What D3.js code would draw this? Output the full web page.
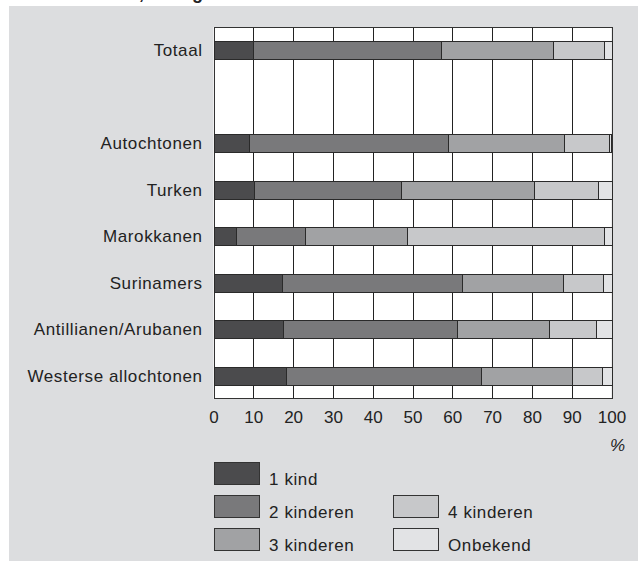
<html>
<head>
<meta charset="utf-8">
<style>
    body { margin: 0; background: #fff; }
    text { font-family: "Liberation Sans", Arial, sans-serif; fill: #222; }
    .grid line { stroke: #222; stroke-width: 1; }
    .bar { stroke: #2a2a2a; stroke-width: 1; }
    .lbl { font-size: 17px; letter-spacing: 0.6px; }
</style>
<script src="https://cdn.jsdelivr.net/npm/d3@7/dist/d3.min.js"></script>
</head>
<body>
<svg id="container" width="638" height="561"></svg>
<script>
// categories (top to bottom), "" is the empty row under Totaal
const groups = ["Totaal", "", "Autochtonen", "Turken", "Marokkanen", "Surinamers",
    "Antillianen/Arubanen", "Westerse allochtonen"]
const series = ["1 kind", "2 kinderen", "3 kinderen", "4 kinderen", "Onbekend"]

// percentages per group
const eenKind     = [10.0, 9.0, 10.2, 5.7, 17.3, 17.5, 18.2]
const tweeKind    = [47.1, 50.0, 36.9, 17.4, 45.1, 43.6, 48.9]
const drieKind    = [28.1, 29.1, 33.4, 25.6, 25.5, 23.1, 23.0]
const vierKind    = [13.0, 11.3, 16.2, 49.5, 9.9, 11.8, 7.4]
const onbekend    = [1.8, 0.6, 3.3, 1.8, 2.2, 4.0, 2.5]

const ticks = [0, 10, 20, 30, 40, 50, 60, 70, 80, 90, 100]
const colors = ["#4b4b4d", "#79797b", "#a1a2a4", "#c7c8ca", "#e2e3e5"]

const svg = d3.select("#container")

// grey panel
svg.append("rect")
    .attr("x", 9).attr("y", 6)
    .attr("width", 629).attr("height", 555)
    .attr("fill", "#dcdddf")

// title, cut off by the top edge as in the original (only descenders show)
svg.append("text")
    .attr("x", 139).attr("y", -0.8)
    .attr("font-weight", "bold").attr("font-size", 18)
    .text(", naar geslacht")

const plotTop = 27, plotBottom = 399
const xScale = d3.scaleLinear().domain([0, 100]).range([213.5, 611.5])
const yScale = d3.scaleBand()
    .domain(groups)
    .range([plotTop, plotBottom])
    .paddingInner(0.613)
    .paddingOuter(0.3065)

// build rows from the arrays
const names = groups.filter(g => g !== "")
const rows = names.map((g, i) => ({
    group: g,
    "1 kind": eenKind[i],
    "2 kinderen": tweeKind[i],
    "3 kinderen": drieKind[i],
    "4 kinderen": vierKind[i],
    "Onbekend": onbekend[i]
}))
const stacked = d3.stack().keys(series)(rows)

// white plot area
svg.append("rect")
    .attr("x", xScale(0)).attr("y", plotTop)
    .attr("width", xScale(100) - xScale(0)).attr("height", plotBottom - plotTop)
    .attr("fill", "#fff")

// vertical grid lines
svg.append("g").attr("class", "grid")
    .selectAll("line").data(ticks).join("line")
    .attr("x1", d => Math.round(xScale(d)) + 0.5).attr("x2", d => Math.round(xScale(d)) + 0.5)
    .attr("y1", plotTop).attr("y2", plotBottom)

// outline of plot
svg.append("rect")
    .attr("x", Math.round(xScale(0)) + 0.5).attr("y", plotTop + 0.5)
    .attr("width", Math.round(xScale(100)) - Math.round(xScale(0)))
    .attr("height", plotBottom - plotTop - 1)
    .attr("fill", "none").attr("stroke", "#333")

// stacked bars
svg.append("g")
    .selectAll("g").data(stacked).join("g")
    .attr("fill", (d, i) => colors[i])
    .selectAll("rect").data(d => d).join("rect")
    .attr("class", "bar")
    .attr("x", d => Math.round(xScale(d[0])) + 0.5)
    .attr("width", d => Math.round(xScale(d[1])) - Math.round(xScale(d[0])))
    .attr("y", d => Math.round(yScale(d.data.group)) + 0.5)
    .attr("height", Math.round(yScale.bandwidth()))

// category labels
svg.append("g")
    .selectAll("text").data(names).join("text")
    .attr("class", "lbl")
    .attr("x", 202.6)
    .attr("y", d => yScale(d) + yScale.bandwidth() / 2)
    .attr("dy", "0.36em")
    .attr("text-anchor", "end")
    .text(d => d)

// x axis labels
const xAxis = svg.append("g")
    .attr("transform", "translate(0," + plotBottom + ")")
    .call(d3.axisBottom(xScale).tickValues(ticks).tickSize(0).tickPadding(12))
xAxis.select(".domain").remove()
xAxis.selectAll("text")
    .attr("font-size", 17)
    .attr("font-family", "Liberation Sans, Arial, sans-serif")
    .attr("fill", "#222")

svg.append("text")
    .attr("x", 625).attr("y", 451)
    .attr("text-anchor", "end")
    .attr("font-size", 17)
    .attr("font-style", "italic")
    .text("%")

// legend
const legend = [
    { key: "1 kind", col: 0, row: 0 },
    { key: "2 kinderen", col: 0, row: 1 },
    { key: "3 kinderen", col: 0, row: 2 },
    { key: "4 kinderen", col: 1, row: 1 },
    { key: "Onbekend", col: 1, row: 2 }
]
const leg = svg.append("g")
    .selectAll("g").data(legend).join("g")
    .attr("transform", d => "translate(" + (d.col ? 393 : 214) + "," + (462 + d.row * 33) + ")")
leg.append("rect")
    .attr("x", 0.5).attr("y", 0.5)
    .attr("width", 45).attr("height", 22)
    .attr("fill", d => colors[series.indexOf(d.key)])
    .attr("stroke", "#333")
leg.append("text")
    .attr("class", "lbl")
    .attr("x", 55).attr("y", 23)
    .text(d => d.key)
</script>
</body>
</html>
